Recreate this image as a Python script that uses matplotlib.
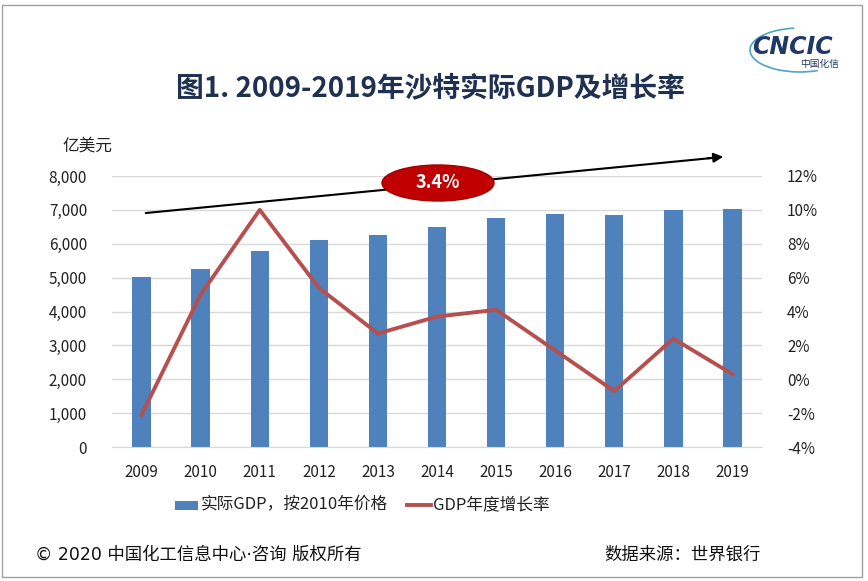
import numpy as np
import matplotlib.pyplot as plt
from matplotlib.patches import Ellipse, Rectangle, Arc

plt.rcParams['font.family'] = ['Noto Sans CJK SC', 'DejaVu Sans']

years = ['2009', '2010', '2011', '2012', '2013', '2014', '2015', '2016', '2017', '2018', '2019']
gdp = [5020, 5260, 5790, 6110, 6270, 6500, 6770, 6890, 6840, 7010, 7030]
growth = [-2.1, 5.0, 10.0, 5.4, 2.7, 3.7, 4.1, 1.7, -0.7, 2.4, 0.3]
left_ticks = [0, 1000, 2000, 3000, 4000, 5000, 6000, 7000, 8000]
right_ticks = [-4, -2, 0, 2, 4, 6, 8, 10, 12]
cagr_label = '3.4%'

bar_color = '#4F81BD'
line_color = '#B5504E'
title_color = '#1F3050'

fig = plt.figure(figsize=(8.68, 5.81), dpi=100)
ax = fig.add_axes([112/868, 1 - 447/581, 650/868, 271/581])
x = np.arange(len(years))

ax.bar(x, gdp, width=0.31, color=bar_color, zorder=2)
ax.set_xlim(-0.5, len(years) - 0.5)
ax.set_ylim(0, 8000)
ax.set_yticks(left_ticks)
ax.set_yticklabels([f'{v:,}' for v in left_ticks])
ax.set_xticks(x)
ax.set_xticklabels(years)
ax.grid(axis='y', color='#D9D9D9', lw=1, zorder=0)
for s in ax.spines.values():
    s.set_visible(False)
ax.spines['bottom'].set_visible(True)
ax.spines['bottom'].set_color('#D9D9D9')
ax.tick_params(length=0, labelsize=11, colors='#222222')
ax.tick_params(axis='y', pad=18)
ax.tick_params(axis='x', pad=12)

ax2 = ax.twinx()
ax2.plot(x, growth, color=line_color, lw=2.8, zorder=3)
ax2.set_ylim(-4, 12)
ax2.set_yticks(right_ticks)
ax2.set_yticklabels([f'{v}%' for v in right_ticks])
for s in ax2.spines.values():
    s.set_visible(False)
ax2.tick_params(length=0, labelsize=11, colors='#222222', pad=18)

# trend arrow with CAGR badge
fig.add_artist(plt.Line2D([146/868, 712/868], [1 - 213/581, 1 - 158/581], color='black', lw=1.5))
ax.annotate('', xy=(726/868, 1 - 156.5/581), xytext=(705/868, 1 - 158.5/581),
            xycoords='figure fraction', textcoords='figure fraction',
            arrowprops=dict(arrowstyle='-|>', color='black', lw=1.5, mutation_scale=14))
fig.add_artist(Ellipse((438/868, 1 - 183/581), 112/868, 36/581, transform=fig.transFigure,
                       facecolor='#C00000', edgecolor='#A00000', lw=1, zorder=5))
fig.text(438/868, 1 - 183/581, cagr_label, ha='center', va='center', color='white',
         fontsize=13, fontweight='bold', zorder=6)

# titles and labels
fig.text(430/868, 1 - 88/581, '图1. 2009-2019年沙特实际GDP及增长率', ha='center', va='center',
         fontsize=20, fontweight='bold', color=title_color)
fig.text(62/868, 1 - 146/581, '亿美元', ha='left', va='center', fontsize=12, color='#222222')

# logo
fig.text(792/868, 1 - 47/581, 'CNCIC', ha='center', va='center', fontsize=17,
         fontweight='bold', fontstyle='italic', color='#1F3864', family='DejaVu Sans')
fig.text(820/868, 1 - 64/581, '中国化信', ha='center', va='center', fontsize=7, color='#1F3864')
fig.add_artist(Arc((800/868, 1 - 50/581), 100/868, 44/581, theta1=100, theta2=300,
                   transform=fig.transFigure, color='#4FA3C8', lw=1.2))

# legend
fig.add_artist(Rectangle((175/868, 1 - 510/581), 23/868, 9/581, transform=fig.transFigure,
                         facecolor=bar_color, edgecolor='none'))
fig.text(201/868, 1 - 505/581, '实际GDP，按2010年价格', ha='left', va='center', fontsize=12, color='#222222')
fig.add_artist(plt.Line2D([407/868, 431/868], [1 - 505/581, 1 - 505/581], color=line_color, lw=2.8))
fig.text(433/868, 1 - 505/581, 'GDP年度增长率', ha='left', va='center', fontsize=12, color='#222222')

# footer
fig.text(35/868, 1 - 555/581, '© 2020 中国化工信息中心·咨询 版权所有', ha='left', va='center',
         fontsize=12.5, color='#111111', family=['DejaVu Sans', 'Noto Sans CJK SC'])
fig.text(604/868, 1 - 555/581, '数据来源：世界银行', ha='left', va='center',
         fontsize=12.5, color='#111111')

# frame
fig.add_artist(Rectangle((2/868, 4/581), 860/868, 572/581, transform=fig.transFigure,
                         facecolor='none', edgecolor='#A0A0A0', lw=1))

fig.savefig('out.png', dpi=100)
